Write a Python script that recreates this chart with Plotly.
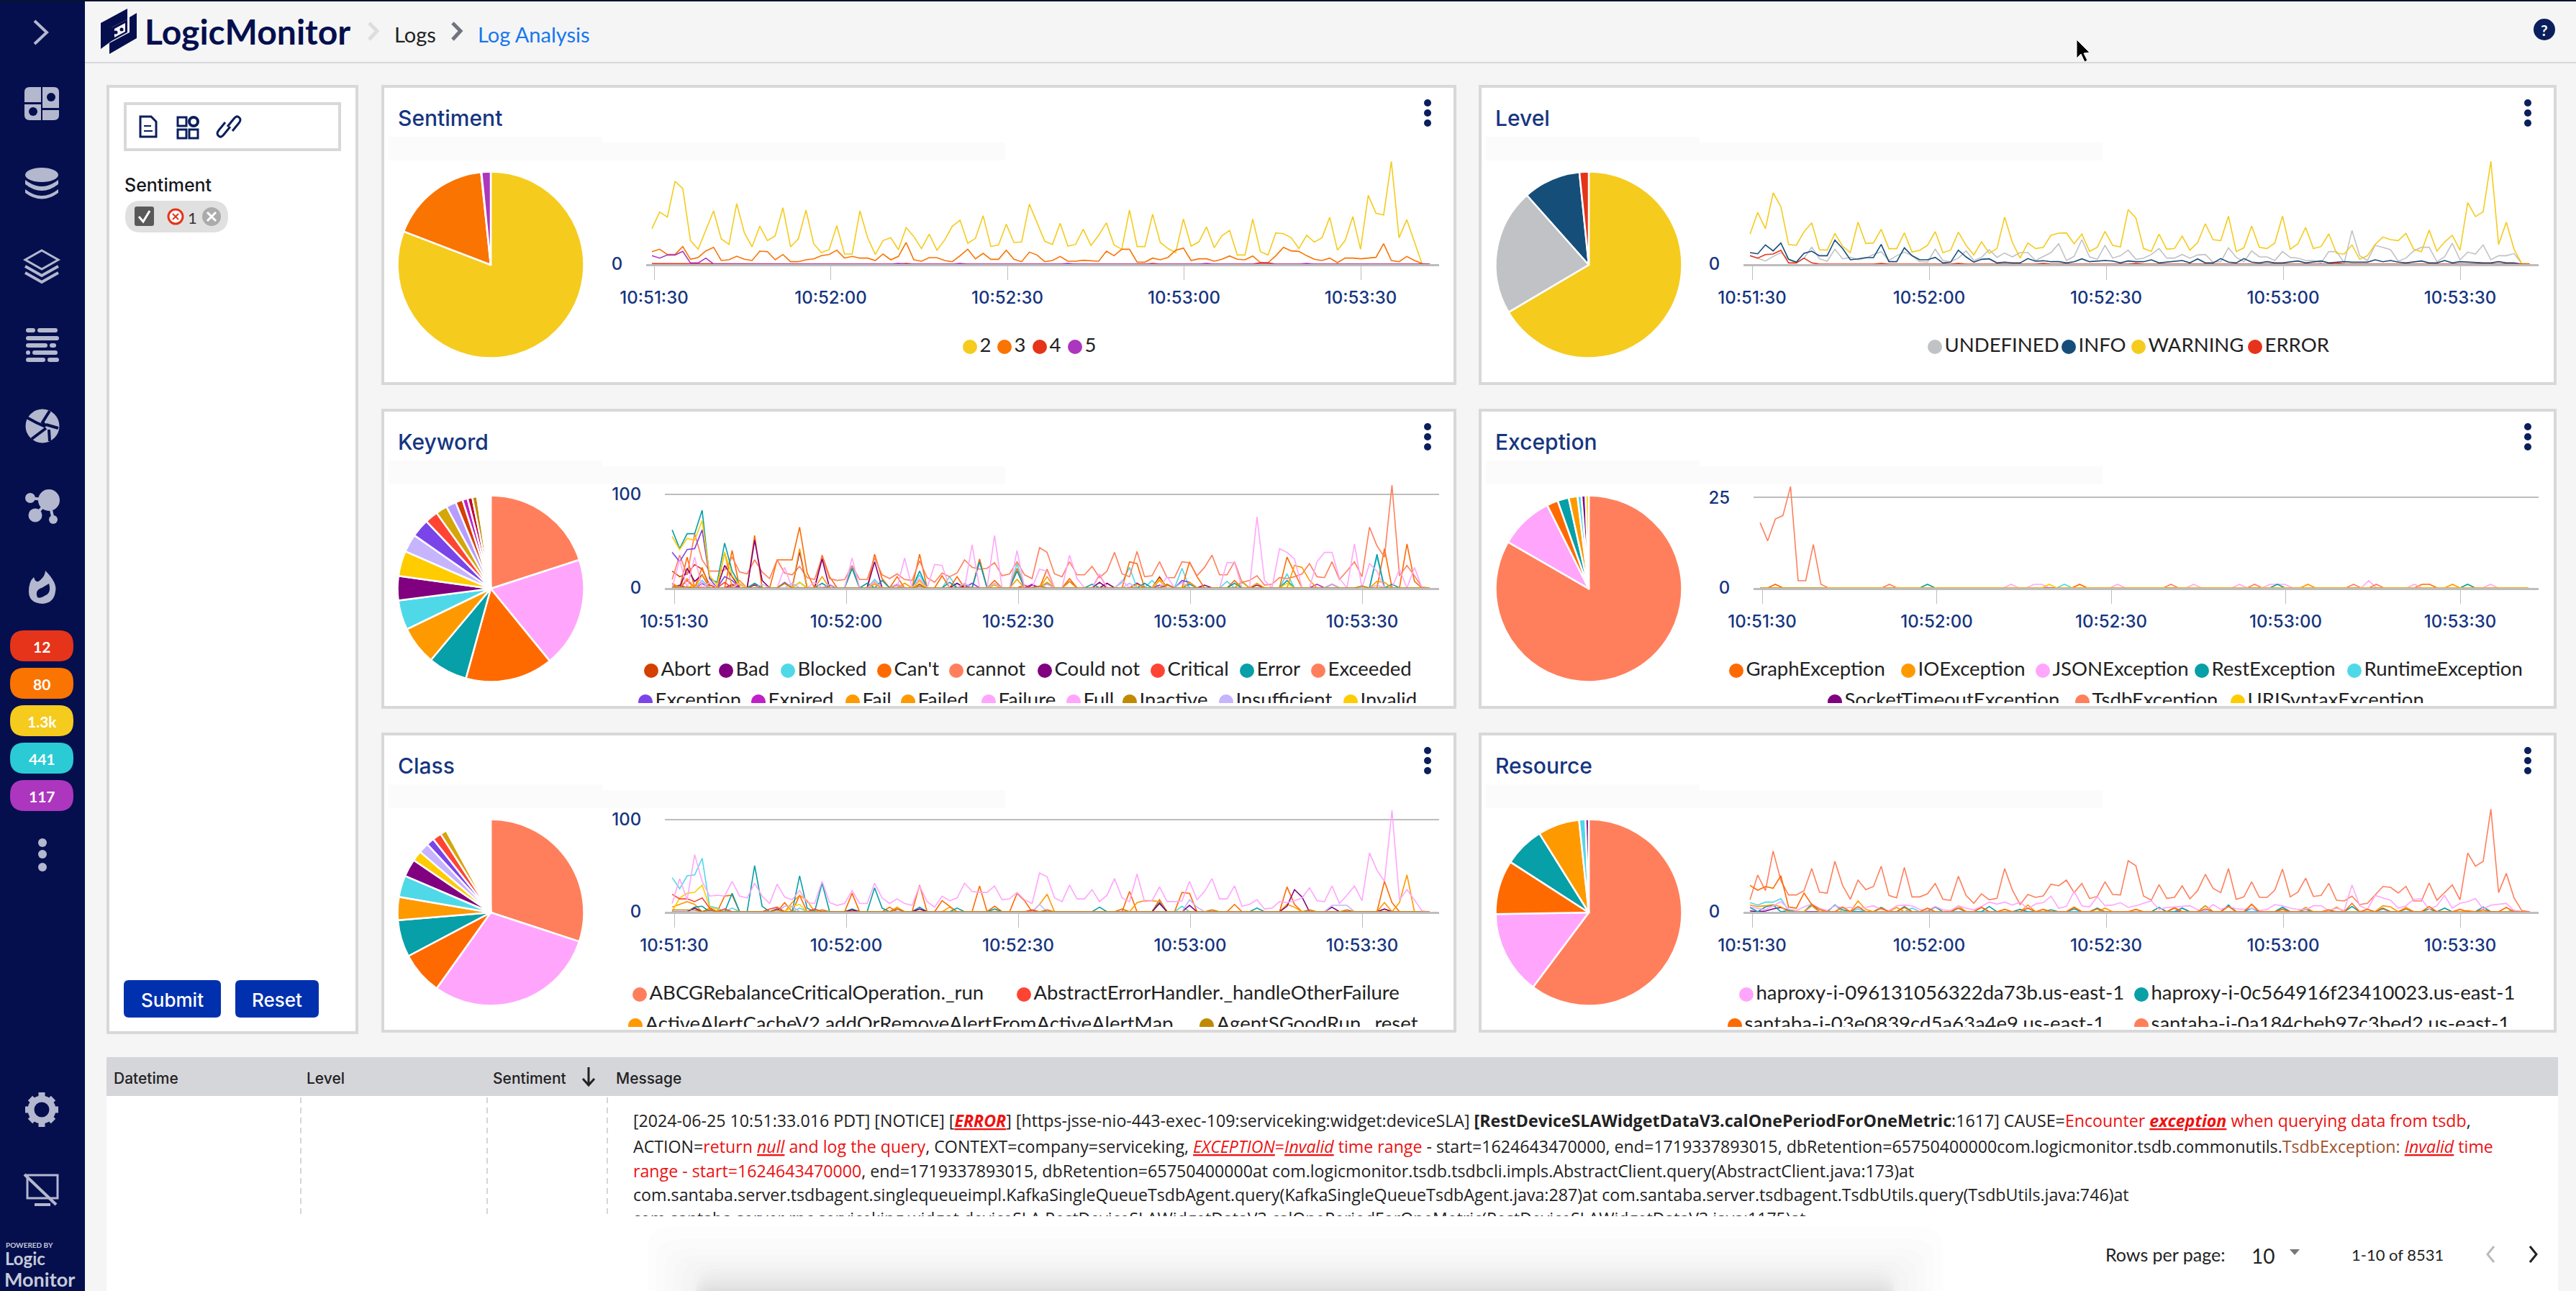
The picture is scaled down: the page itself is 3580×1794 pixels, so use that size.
import pandas as pd
import plotly.graph_objects as go

W, H = 3580, 1794
N = 102
FONT = "Lato"
UI_FONT = "Inter"
NAVY = "#050F4E"
ICON = "#B3B8CE"
TITLE = "#16357F"


def spikes(d):
    return [d.get(i, 0) for i in range(N)]


# Sentiment: only 0 is labelled on this axis, so values are relative heights
SENTIMENT_2 = [148, 217, 196, 345, 315, 98, 62, 145, 222, 105, 82, 252, 130, 72, 158, 98, 118, 235, 72, 105,
               225, 85, 48, 60, 160, 42, 42, 222, 110, 40, 98, 110, 60, 152, 115, 65, 125, 58, 100, 158,
               183, 87, 107, 202, 73, 80, 166, 90, 92, 250, 175, 95, 82, 170, 75, 82, 145, 78, 120, 172,
               80, 62, 225, 73, 73, 208, 90, 65, 48, 188, 75, 92, 155, 68, 118, 140, 38, 38, 188, 52,
               38, 130, 127, 110, 65, 120, 92, 110, 195, 58, 98, 198, 62, 287, 212, 205, 428, 110, 185, 90, 0, 0]
SENTIMENT_3 = [52, 62, 40, 40, 73, 20, 28, 55, 70, 15, 18, 33, 20, 15, 54, 52, 18, 40, 10, 10,
               18, 22, 35, 40, 58, 25, 32, 25, 25, 15, 42, 18, 32, 90, 18, 12, 27, 27, 15, 10,
               35, 62, 22, 45, 20, 20, 58, 20, 10, 50, 38, 10, 15, 32, 12, 12, 16, 15, 12, 54,
               35, 62, 62, 8, 8, 25, 18, 28, 58, 67, 15, 22, 22, 12, 20, 34, 20, 18, 34, 6,
               6, 35, 70, 55, 53, 35, 20, 15, 25, 6, 25, 25, 22, 25, 28, 85, 15, 10, 32, 15, 2, 0]
SENTIMENT_4 = spikes({0: 2, 1: 2, 2: 2, 3: 2, 4: 2, 33: 3, 65: 3, 79: 6, 80: 5})
SENTIMENT_5 = spikes({0: 35, 1: 25, 2: 38, 3: 38, 4: 53, 5: 5, 6: 5, 7: 25, 32: 3, 40: 3, 54: 3, 72: 3, 85: 3})

LEVEL_UNDEFINED = [35, 25, 13, 32, 48, 20, 5, 25, 70, 22, 12, 62, 22, 28, 18, 25, 40, 52, 15, 35,
                   50, 35, 10, 8, 62, 15, 10, 25, 55, 15, 28, 60, 28, 46, 30, 48, 48, 15, 32, 48,
                   85, 15, 32, 102, 30, 20, 78, 25, 35, 58, 20, 25, 40, 65, 25, 25, 40, 25, 38, 40,
                   8, 10, 68, 28, 10, 55, 30, 30, 15, 52, 28, 25, 15, 15, 5, 52, 52, 5, 140, 35,
                   15, 78, 70, 60, 12, 25, 55, 70, 70, 10, 30, 87, 18, 50, 42, 80, 18, 35, 35, 44, 2, 0]
LEVEL_INFO = [48, 43, 80, 55, 88, 20, 8, 45, 54, 35, 35, 100, 65, 18, 22, 27, 27, 82, 10, 10,
              68, 35, 18, 18, 28, 5, 8, 58, 30, 8, 20, 22, 5, 8, 5, 5, 23, 12, 14, 10,
              10, 5, 10, 22, 10, 13, 15, 13, 5, 13, 10, 10, 18, 5, 8, 10, 15, 5, 22, 5,
              5, 23, 8, 5, 23, 8, 5, 10, 5, 5, 8, 13, 5, 8, 13, 5, 8, 10, 8, 8,
              8, 18, 10, 15, 8, 5, 8, 13, 5, 5, 15, 5, 10, 8, 5, 5, 5, 10, 5, 5, 0, 0]
LEVEL_WARNING = [125, 215, 148, 297, 240, 82, 78, 135, 172, 60, 58, 128, 75, 48, 175, 86, 88, 145, 64, 64,
                 130, 50, 58, 78, 135, 48, 58, 133, 78, 38, 93, 45, 65, 196, 90, 25, 88, 65, 70, 120,
                 129, 130, 85, 125, 53, 70, 136, 78, 72, 227, 192, 65, 53, 125, 62, 65, 117, 58, 90, 168,
                 102, 98, 200, 52, 68, 158, 70, 65, 88, 200, 62, 85, 153, 65, 73, 126, 45, 42, 80, 20,
                 35, 82, 113, 102, 98, 128, 62, 52, 142, 54, 92, 120, 58, 256, 198, 218, 428, 82, 175, 62, 2, 2]
LEVEL_ERROR = spikes({0: 35, 1: 25, 2: 40, 3: 42, 4: 58, 5: 5, 6: 5, 7: 25, 8: 5, 17: 3, 27: 3, 38: 3, 50: 3, 76: 4})

# Keyword (counts)
KW_EXCEEDED = [9, 35, 14, 58, 30, 18, 18, 19, 33, 17, 15, 30, 17, 10, 30, 16, 14, 23, 11, 9,
               33, 10, 8, 9, 24, 9, 9, 32, 14, 10, 15, 9, 8, 29, 11, 6, 16, 12, 16, 30,
               22, 20, 21, 27, 13, 15, 28, 14, 10, 43, 38, 15, 12, 28, 14, 14, 23, 11, 18, 38,
               15, 12, 39, 12, 13, 28, 11, 11, 28, 27, 13, 22, 35, 14, 14, 28, 6, 8, 13, 3,
               4, 11, 10, 12, 15, 26, 12, 11, 28, 9, 18, 28, 12, 65, 45, 33, 110, 13, 24, 13, 1, 0]
KW_FULL = spikes({1: 30, 3: 33, 5: 6, 9: 5, 15: 22, 19: 6, 24: 32, 27: 7, 31: 32, 33: 10, 35: 25, 36: 24, 40: 46, 43: 56,
                  46: 40, 49: 20, 50: 18, 53: 35, 54: 10, 57: 15, 60: 8, 66: 12, 74: 27, 75: 27, 78: 76, 79: 8,
                  81: 42, 82: 38, 83: 31, 86: 28, 87: 38, 88: 38, 89: 10, 91: 47, 93: 26, 94: 18, 97: 20, 99: 22})
KW_CANT = spikes({0: 3, 2: 33, 4: 22, 8: 40, 11: 56, 14: 30, 15: 30, 16: 30, 17: 65, 18: 16, 20: 35, 21: 12, 24: 21, 27: 36,
                  28: 10, 30: 12, 33: 36, 36: 13, 38: 12, 41: 31, 43: 8, 46: 21, 50: 20, 53: 10, 57: 14, 61: 28,
                  62: 26, 65: 12, 69: 28, 70: 12, 75: 8, 82: 33, 83: 16, 95: 42, 98: 47, 99: 7})
KW_ERROR = spikes({0: 62, 1: 42, 2: 58, 3: 58, 4: 83, 5: 10, 6: 6, 7: 48, 8: 18, 9: 4, 11: 5, 17: 6, 20: 5, 24: 21, 26: 5,
                   28: 8, 33: 18, 37: 6, 41: 28, 46: 18, 50: 5, 56: 4, 63: 5, 69: 4, 75: 5, 82: 8, 94: 36, 96: 4})
KW_FAILED = spikes({0: 5, 2: 10, 4: 14, 7: 38, 9: 8, 17: 42, 20: 12, 27: 6, 31: 5, 33: 8, 46: 9, 50: 12, 53: 7,
                    65: 8, 69: 6, 76: 7, 83: 24, 84: 22, 85: 8, 94: 7, 95: 6})
KW_BLOCKED = spikes({0: 4, 4: 8, 9: 5, 24: 24, 27: 9, 33: 14, 37: 12, 41: 28, 46: 26, 50: 6, 60: 6, 61: 22, 64: 8, 68: 21,
                     74: 7, 76: 6, 82: 15, 94: 33})
KW_COULD_NOT = spikes({2: 21, 3: 7, 4: 14, 7: 24, 8: 12, 11: 51, 12: 8, 17: 39, 20: 31, 27: 28, 33: 4, 38: 5, 50: 5, 53: 7,
                       57: 6, 65: 11, 78: 3, 88: 4})
KW_INVALID = spikes({0: 55, 1: 41, 2: 53, 3: 51, 4: 72, 5: 13, 6: 3, 7: 38, 8: 13, 9: 3, 17: 6, 33: 5, 65: 10, 82: 5})
KW_EXCEPTION = spikes({0: 38, 1: 28, 2: 41, 3: 42, 4: 62, 5: 10, 7: 12, 8: 8, 15: 6, 40: 5, 68: 8, 69: 6})
KW_ABORT = spikes({0: 18, 1: 12, 2: 15, 3: 25, 4: 20, 5: 3, 8: 4, 15: 5, 39: 3})
KW_BAD = spikes({1: 3, 4: 5, 11: 3, 30: 4, 48: 3, 58: 5, 62: 5, 71: 3})
KW_CRITICAL = spikes({0: 5, 2: 8, 7: 6, 11: 4, 30: 3, 47: 3, 66: 4})
KW_EXPIRED = spikes({4: 5, 8: 3, 21: 3, 48: 4, 65: 3, 86: 4})
KW_FAIL = spikes({3: 3, 15: 5, 27: 4, 43: 3, 50: 6, 62: 4, 78: 5})
KW_FAILURE = spikes({4: 6, 21: 4, 30: 4, 50: 4, 61: 5, 88: 4})
KW_INACTIVE = spikes({0: 1, 1: 1, 2: 1, 15: 5, 33: 2, 49: 2, 66: 3, 92: 2})
KW_INSUFFICIENT = spikes({12: 4, 16: 5, 39: 5, 43: 5, 68: 6, 94: 3})

EX_GRAPH = spikes({2: 1, 42: 1, 87: 1, 88: 1})
EX_IO = spikes({72: 1, 91: 1})
EX_JSON = spikes({33: 1, 36: 1, 37: 1, 47: 1, 57: 1, 63: 1, 67: 1, 68: 1, 69: 1, 80: 2, 86: 1, 96: 1})
EX_REST = spikes({22: 1, 68: 1, 93: 1})
EX_RUNTIME = spikes({40: 1})
EX_SOCKET = spikes({})
EX_TSDB = spikes({0: 18, 1: 13, 2: 19, 3: 20, 4: 28, 5: 2, 6: 2, 7: 12, 8: 1, 17: 1, 54: 1, 65: 1, 78: 1, 81: 1})
EX_URI = spikes({38: 1})

CLASS_ABCG = [9, 36, 13, 62, 33, 17, 18, 17, 33, 17, 15, 31, 17, 9, 30, 16, 13, 23, 10, 9,
              33, 10, 7, 9, 23, 9, 9, 31, 15, 9, 14, 9, 7, 28, 11, 5, 17, 12, 15, 31,
              22, 21, 21, 28, 13, 14, 21, 13, 9, 42, 38, 15, 11, 29, 14, 14, 24, 11, 18, 36,
              15, 11, 41, 11, 12, 27, 11, 11, 12, 33, 13, 22, 36, 14, 14, 28, 6, 8, 13, 3,
              4, 11, 10, 12, 15, 26, 12, 11, 28, 9, 18, 28, 12, 64, 45, 33, 110, 13, 24, 13, 1, 0]
CLASS_HANDLER = spikes({0: 19, 1: 14, 2: 14, 3: 11, 4: 15, 5: 4, 7: 3, 13: 3, 14: 5, 19: 3, 30: 3, 48: 2})
CLASS_ALERT = spikes({0: 5, 1: 8, 2: 11, 3: 8, 5: 4, 16: 10, 17: 18, 18: 12, 30: 5, 37: 5, 49: 8, 50: 19, 62: 10,
                      63: 12, 64: 12, 65: 11, 98: 40, 97: 10, 95: 10, 82: 8, 83: 5})
CLASS_ERROR = spikes({3: 5, 4: 6, 8: 20, 11: 50, 12: 6, 17: 39, 18: 4, 20: 31, 24: 3, 27: 26, 28: 4, 33: 5, 38: 4, 43: 3,
                      57: 5, 65: 10, 78: 4})
CLASS_CYAN = spikes({0: 37, 1: 25, 2: 39, 3: 40, 4: 58, 5: 6, 6: 4, 8: 4, 17: 4, 68: 6})
CLASS_YELLOW = spikes({1: 15, 2: 20, 3: 21, 4: 29, 5: 5, 6: 3, 16: 6, 17: 8})
CLASS_ORANGE = spikes({3: 4, 7: 17, 8: 18, 15: 10, 17: 18, 24: 20, 29: 5, 33: 29, 36: 12, 37: 6, 41: 28, 43: 6, 46: 20,
                       47: 12, 61: 22, 65: 13, 68: 21, 69: 20, 75: 8, 82: 27, 83: 8, 95: 33, 96: 10})
CLASS_PURPLE = spikes({3: 4, 5: 2, 14: 3, 24: 2, 33: 3, 65: 9, 69: 7, 82: 6, 83: 24, 84: 16, 88: 5, 95: 3})
CLASS_LAVENDER = spikes({15: 6, 16: 6, 49: 8, 69: 13, 70: 5, 88: 7, 89: 7, 90: 7})
CLASS_GOLD = spikes({0: 2, 1: 2, 2: 2, 3: 2, 5: 2, 14: 2, 20: 2, 30: 3, 50: 2, 60: 3, 72: 2, 85: 2, 90: 2})

RES_HAPROXY_A = [20, 15, 8, 25, 42, 12, 5, 20, 32, 15, 5, 25, 15, 18, 15, 18, 25, 10, 5, 25,
                 28, 25, 10, 5, 22, 8, 5, 25, 15, 8, 22, 40, 32, 40, 28, 40, 12, 32, 38, 65,
                 15, 22, 85, 25, 20, 62, 25, 28, 38, 18, 25, 35, 45, 10, 18, 20, 22, 25, 8, 5,
                 30, 10, 22, 12, 10, 15, 5, 10, 30, 25, 15, 10, 8, 25, 25, 5, 15, 5, 112, 25,
                 10, 68, 58, 48, 15, 25, 52, 54, 10, 25, 68, 15, 35, 42, 55, 12, 28, 32, 35, 5, 0, 0]
RES_HAPROXY_B = spikes({0: 18, 2: 20, 3: 28, 5: 5, 8: 32, 11: 28, 12: 8, 17: 18, 20: 22, 24: 20, 27: 15, 31: 22,
                        35: 10, 39: 8, 42: 12, 45: 15, 53: 18, 56: 15, 59: 25, 62: 28, 65: 15, 69: 18, 72: 10, 78: 22,
                        82: 15, 85: 12, 88: 12, 90: 15, 95: 20, 99: 5})
RES_SANTABA_A = spikes({0: 110, 1: 90, 2: 105, 3: 98, 4: 150, 5: 20, 6: 15, 7: 78, 8: 30, 9: 10, 12: 20, 14: 22, 17: 15, 20: 18,
                        23: 15, 27: 15, 30: 18, 33: 10, 36: 15, 38: 10, 42: 18, 45: 12, 50: 10, 55: 15, 59: 12,
                        62: 22, 65: 32, 69: 10, 75: 8, 78: 35, 80: 10, 82: 12, 85: 12, 88: 22, 92: 10, 95: 8, 98: 18})
RES_SANTABA_B = [50, 153, 88, 253, 130, 70, 70, 88, 180, 82, 78, 210, 110, 52, 132, 92, 105, 190, 68, 58,
                 185, 62, 62, 75, 118, 52, 48, 148, 68, 35, 75, 50, 56, 180, 90, 30, 72, 60, 66, 115,
                 108, 132, 80, 118, 55, 64, 125, 72, 70, 213, 192, 65, 48, 113, 56, 60, 108, 54, 88, 156,
                 98, 80, 180, 52, 62, 125, 60, 60, 90, 178, 62, 82, 140, 64, 68, 118, 48, 45, 65, 30,
                 35, 70, 105, 102, 78, 106, 45, 45, 120, 48, 80, 112, 50, 245, 190, 210, 428, 80, 160, 58, 5, 0]
RES_AMBER = spikes({0: 28, 1: 22, 2: 25, 3: 30, 4: 20, 8: 25, 14: 45, 15: 10, 19: 18, 27: 25, 30: 20, 36: 28, 42: 20,
                    46: 15, 55: 18, 59: 25, 65: 30, 72: 18, 76: 20, 82: 25, 83: 20, 85: 18, 93: 5})
RES_CYAN = spikes({0: 38, 1: 28, 2: 40, 3: 40, 4: 55, 5: 5, 8: 25, 11: 28, 14: 12, 21: 15, 56: 15, 62: 25, 69: 20})
RES_PURPLE = spikes({0: 4, 2: 3, 3: 12, 4: 18, 5: 5})

TICK_LABELS = ["10:51:30", "10:52:00", "10:52:30", "10:53:00", "10:53:30"]
TICK_TIMES = ["2024-06-25 " + t for t in TICK_LABELS]

SENTIMENT_NAMES = ["2", "3", "4", "5"]
SENTIMENT_COLORS = ["#F5CB1E", "#F97400", "#E5341A", "#AD36BE"]
SENTIMENT_SLICES = [6896, 1493, 7, 135]
LEVEL_NAMES = ["UNDEFINED", "INFO", "WARNING", "ERROR"]
LEVEL_COLORS = ["#C1C2C6", "#164E7A", "#F5CB1E", "#E5341A"]
LEVEL_PIE_COLORS = ["#F5CB1E", "#C1C2C6", "#164E7A", "#E5341A"]
LEVEL_SLICES = [5673, 1871, 850, 137]
KEYWORD_NAMES = ["Abort", "Bad", "Blocked", "Can't", "cannot", "Could not", "Critical", "Error", "Exceeded",
                 "Exception", "Expired", "Fail", "Failed", "Failure", "Full", "Inactive", "Insufficient", "Invalid"]
KEYWORD_COLORS = ["#D44000", "#800080", "#4FD9E8", "#FF6A00", "#FF7F5C", "#800080", "#FF4433", "#079FA8", "#FF7F5C",
                  "#7A45E8", "#C020C8", "#FF9900", "#FF9900", "#FFA6FC", "#FFA6FC", "#C08A00", "#C6B4FF", "#FFCC00"]
KEYWORD_SLICES = [1446, 1382, 1098, 492, 486, 372, 304, 316, 228, 228, 164, 144, 126, 90, 64, 60, 60,
                  10, 10, 10, 10, 10, 10, 10, 10, 10, 10, 10, 10, 10, 10, 10, 10, 10]
KEYWORD_PIE_COLORS = ["#FF7F5C", "#FFA6FC", "#FF6A00", "#079FA8", "#FF9900", "#4FD9E8", "#800080", "#FFCC00",
                      "#C6B4FF", "#7A45E8", "#FF4433", "#D4A60A", "#B79CFF", "#D44000", "#C020C8", "#C2002F", "#C08A00"]
EXCEPTION_NAMES = ["GraphException", "IOException", "JSONException", "RestException", "RuntimeException",
                   "SocketTimeoutException", "TsdbException", "URISyntaxException"]
EXCEPTION_COLORS = ["#FF6A00", "#FF9900", "#FFA6FC", "#079FA8", "#4FD9E8", "#800080", "#FF7F5C", "#FFCC00"]
EXCEPTION_SLICES = [600, 67, 14, 14, 11, 5, 5, 4]
EXCEPTION_PIE_COLORS = ["#FF7F5C", "#FFA6FC", "#FF6A00", "#079FA8", "#FF9900", "#4FD9E8", "#800080", "#FFCC00"]
CLASS_NAMES = ["ABCGRebalanceCriticalOperation._run", "AbstractErrorHandler._handleOtherFailure",
               "ActiveAlertCacheV2.addOrRemoveAlertFromActiveAlertMap", "AgentSGoodRun._reset"]
CLASS_LEGEND_COLORS = ["#FF7F5C", "#FF4433", "#FF9900", "#C08A00"]
CLASS_SLICES = [107, 106.2, 26.4, 22.8, 14.3, 13.3, 11, 6.4, 6.3, 4.8, 5.5, 4] + [0.7] * 12 + [0.45] * 44
CLASS_PIE_COLORS = ["#FF7F5C", "#FFA6FC", "#FF6A00", "#079FA8", "#FF9900", "#4FD9E8", "#800080", "#FFCC00",
                    "#C6B4FF", "#7A45E8", "#FF4433", "#D4A60A", "#B79CFF", "#D44000", "#C020C8", "#C2002F", "#C08A00",
                    "#FF7F5C", "#FFA6FC", "#FF6A00", "#079FA8", "#FF9900", "#4FD9E8", "#800080"]
RESOURCE_NAMES = ["haproxy-i-096131056322da73b.us-east-1", "haproxy-i-0c564916f23410023.us-east-1",
                  "santaba-i-03e0839cd5a63a4e9.us-east-1", "santaba-i-0a184cbeb97c3bed2.us-east-1"]
RESOURCE_LEGEND_COLORS = ["#FFA6FC", "#079FA8", "#FF6A00", "#FF7F5C"]
RESOURCE_SLICES = [216.8, 52.2, 33.8, 25.2, 26, 4, 2]
RESOURCE_PIE_COLORS = ["#FF7F5C", "#FFA6FC", "#FF6A00", "#079FA8", "#FF9900", "#4FD9E8", "#800080"]

# rows of legend swatch positions are pixel layout, not data
SENT_LEG = [(1348, 482), (1396, 482), (1445, 482), (1494, 482)]
LEVEL_LEG = [(2689, 482), (2875, 482), (2972, 482), (3134, 482)]
KEY_LEG = [(x, 932) for x in (905, 1009, 1095, 1229, 1329, 1452, 1609, 1733, 1832)] + \
          [(x, 975) for x in (897, 1054, 1185, 1262, 1374, 1492, 1570, 1704, 1877)]
EXC_LEG = [(x, 932) for x in (2413, 2652, 2839, 3060, 3272)] + [(x, 975) for x in (2550, 2894, 3110)]
CLS_LEG = [(889, 1382), (1423, 1382), (883, 1425), (1677, 1425)]
RES_LEG = [(2427, 1382), (2976, 1382), (2411, 1425), (2976, 1425)]

times = pd.date_range("2024-06-25 10:51:29.64", periods=N, freq="1308ms")
x_times = [t.strftime("%Y-%m-%d %H:%M:%S.%f")[:-3] for t in times]
tick_zero = pd.Timestamp("2024-06-25 10:51:30")

fig = go.Figure()
layout_axes = {}
shapes = []
annotations = []


def rect(x0, y0, x1, y1, fill, line=None, lw=0, opacity=1):
    shapes.append(dict(type="rect", xref="x", yref="y", x0=x0, y0=y0, x1=x1, y1=y1, fillcolor=fill, opacity=opacity,
                       line=dict(color=line or fill, width=lw), layer="below"))


def rrect(x0, y0, x1, y1, r, fill, opacity=1, line=None, lw=0):
    p = (f"M{x0+r},{y0} L{x1-r},{y0} Q{x1},{y0} {x1},{y0+r} L{x1},{y1-r} Q{x1},{y1} {x1-r},{y1} "
         f"L{x0+r},{y1} Q{x0},{y1} {x0},{y1-r} L{x0},{y0+r} Q{x0},{y0} {x0+r},{y0} Z")
    shapes.append(dict(type="path", xref="x", yref="y", path=p, fillcolor=fill, opacity=opacity,
                       line=dict(color=line or fill, width=lw), layer="below"))


def circle(cx, cy, rx, fill, ry=None, line=None, lw=0):
    ry = ry or rx
    shapes.append(dict(type="circle", xref="x", yref="y", x0=cx-rx, y0=cy-ry, x1=cx+rx, y1=cy+ry, fillcolor=fill,
                       line=dict(color=line or fill, width=lw), layer="below"))


def path(d, fill="rgba(0,0,0,0)", line=None, lw=0):
    shapes.append(dict(type="path", xref="x", yref="y", path=d, fillcolor=fill,
                       line=dict(color=line or "rgba(0,0,0,0)", width=lw), layer="below"))


def text(x, y, s, size=24, color="#222", anchor="left", bold=False, family=FONT, weight=400):
    annotations.append(dict(xref="x", yref="y", x=x, y=y, text=f"<b>{s}</b>" if bold else s, showarrow=False,
                            xanchor=anchor, yanchor="middle", align=anchor, borderpad=0,
                            font=dict(family=family, size=size, color=color, weight=weight)))


# page axes in pixels, so everything around the charts can be placed directly
fig.add_trace(go.Scatter(x=[0], y=[0], mode="none", hoverinfo="skip", showlegend=False))
layout_axes["xaxis"] = dict(domain=[0, 1], range=[0, W], visible=False, fixedrange=True, automargin=False)
layout_axes["yaxis"] = dict(domain=[0, 1], range=[H, 0], visible=False, fixedrange=True, automargin=False)

# page background and navigation
rect(0, 0, 118, H, NAVY)
rect(0, 0, W, 2, "#0A1330")
rect(118, 86, W, 88, "#D8D8DE")

path("M140,32 L177,12 L177,27 L155,38 L155,57 L140,68 Z", fill=NAVY)
path("M190,18 L190,53 L152,75 L152,60 L180,45 L180,24 Z", fill=NAVY)
path("M155,38 L177,27 L177,45 L155,57 Z", fill=NAVY)
path("M159,40 L174,32 L174,44 L159,52 Z", fill="#F5F5F5")
circle(161, 45, 2.5, NAVY)
circle(169, 41, 2.5, NAVY)
text(200, 43, "LogicMonitor", size=48, color=NAVY, bold=True)
path("M513,32 L524,43 L513,55", line="#DDDDDD", lw=5)
text(547, 47, "Logs", size=29, color="#222")
path("M629,32 L640,43 L629,55", line="#70747F", lw=5)
text(663, 47, "Log Analysis", size=29, color="#1677EE")
circle(3536, 41, 15, "#0A1F5C")
text(3536, 41, "?", size=21, color="white", anchor="center", bold=True)
path("M2886,55 L2886,81 L2892,75 L2897,86 L2901,84 L2896,74 L2904,73 Z", fill="black", line="white", lw=1)

# sidebar icons
path("M48,29 L65,45 L48,61", line=ICON, lw=4)
rrect(34, 121, 82, 167, 7, ICON)
rect(57, 121, 59, 167, NAVY)
rect(34, 142, 57, 145, NAVY)
rect(59, 150, 82, 153, NAVY)
circle(71, 135, 6, NAVY)
circle(46, 155, 6, NAVY)
circle(58, 243, 23, ICON, ry=10)
path("M35,250 Q58,268 81,250 L81,256 Q58,274 35,256 Z", fill=ICON)
path("M35,263 Q58,281 81,263 L81,268 Q58,285 35,268 Z", fill=ICON)
path("M58,348 L81,361 L58,374 L35,361 Z", line=ICON, lw=3)
path("M35,370 L58,383 L81,370", line=ICON, lw=4)
path("M35,379 L58,392 L81,379", line=ICON, lw=4)
LIST_ICON = [(456, 36, 49), (456, 52, 80), (467, 36, 82), (477, 36, 66), (477, 69, 78),
             (487, 36, 42), (487, 45, 80), (497, 36, 63), (497, 66, 82)]
for yy, a, b in LIST_ICON:
    rrect(a, yy, b, yy + 6, 3, ICON)
circle(59, 592, 23.5, ICON)
for d in ["M69,571 L59,587 L64,592", "M37,580 L50,587 L63,593", "M81,595 L64,590", "M44,610 L64,595",
          "M69,613 L68,597"]:
    path(d, line=NAVY, lw=4)
path("M42,692 L68,695 M49,716 L68,695 M74,722 L68,695", line=ICON, lw=4)
circle(68, 695, 15, ICON)
circle(42, 692, 7, ICON)
circle(49, 716, 9.5, ICON)
circle(74, 722, 6, ICON)
path("M63,793 Q80,810 77,822 Q75,838 59,839 Q40,838 40,822 Q40,808 47,802 Q50,812 56,806 Q63,800 63,793 Z", fill=ICON)
path("M52,830 Q48,820 58,817 L68,811 Q72,824 62,828 Q56,832 52,830 Z", fill=NAVY)

BADGES = ["12", "80", "1.3k", "441", "117"]
BADGE_COLORS = ["#E5341A", "#F97400", "#F5CB1E", "#2ACBD5", "#AD36BE"]
BADGE_TOPS = [876, 928, 980, 1032, 1084]
for b, c, t in zip(BADGES, BADGE_COLORS, BADGE_TOPS):
    rrect(14, t, 102, t + 43, 20, c)
    text(58, t + 22, b, size=21, color="white", anchor="center", bold=True)
for yy in (1171, 1187, 1205):
    circle(59, yy, 6, ICON)

circle(58, 1542, 15, "rgba(0,0,0,0)", line=ICON, lw=9)
for d in ["M58,1518 L58,1526", "M58,1558 L58,1566", "M35,1542 L42,1542", "M74,1542 L81,1542",
          "M42,1526 L47,1531", "M69,1553 L74,1558", "M42,1558 L47,1553", "M69,1531 L74,1526"]:
    path(d, line=ICON, lw=9)
path("M38,1633 L80,1633 L80,1665 L38,1665 Z", line=ICON, lw=3)
path("M48,1674 L70,1674", line=ICON, lw=4)
path("M34,1632 L78,1674", line=ICON, lw=4)
text(7, 1730, "POWERED BY", size=10, color="#C6CAD8", bold=True)
text(6, 1748, "Logic", size=24, color="#C6CAD8", bold=True)
text(5, 1777, "Monitor", size=27, color="#C6CAD8", bold=True)

# filter card
rect(150, 120, 496, 1435, "white", line="#D8D8D8", lw=4)
rect(174, 144, 472, 208, "white", line="#D8D8D8", lw=4)
path("M195,162 L210,162 L217,169 L217,190 L195,190 Z", line="#0A1F5C", lw=3)
rect(200, 174, 210, 176, "#0A1F5C")
rect(200, 181, 212, 183, "#0A1F5C")
for xx, yy in ((247, 163), (247, 180), (263, 180)):
    rect(xx, yy, xx + 12, yy + 12, "white", line="#0A1F5C", lw=3)
circle(269, 169, 6, "white", line="#0A1F5C", lw=4)
path("M316,176 L325,165 Q329,160 332,163 Q336,166 332,171 L323,182", line="#0A1F5C", lw=3)
path("M320,176 L311,187 Q307,192 304,189 Q300,186 304,181 L313,170", line="#0A1F5C", lw=3)
text(172, 257, "Sentiment", size=25, color="#16181E", family=UI_FONT, weight=500)
rrect(174, 279, 317, 323, 22, "#E0E0E0")
rrect(187, 287, 214, 314, 3, "#595959")
path("M193,301 L199,308 L208,293", line="white", lw=3)
circle(244, 301, 10, "white", line="#E5341A", lw=3)
path("M240,297 L248,305 M248,297 L240,305", line="#E5341A", lw=2)
text(260, 302, "1", size=22, color="#333")
circle(294, 301, 13, "#ABABAB")
path("M288,295 L300,307 M300,295 L288,307", line="white", lw=3)
rrect(172, 1362, 307, 1414, 7, "#0030AE")
text(239, 1389, "Submit", size=26, color="white", anchor="center", family=UI_FONT, weight=500)
rrect(327, 1362, 443, 1414, 7, "#0030AE")
text(385, 1389, "Reset", size=26, color="white", anchor="center", family=UI_FONT, weight=500)

# table under the charts
rect(148, 1469, 3555, H, "white")
rect(148, 1469, 3555, 1523, "#D5D6DA")
for xx, lab in ((157, "Datetime"), (425, "Level"), (684, "Sentiment"), (855, "Message")):
    text(xx, 1498, lab, size=21, color="#222", family=UI_FONT, weight=500)
path("M818,1483 L818,1507 M810,1499 L818,1508 L826,1499", line="#222", lw=3)
for xx in (418, 677, 844):
    shapes.append(dict(type="line", xref="x", yref="y", x0=xx, x1=xx, y0=1525, y1=1690, layer="below",
                       line=dict(color="#D6D6D6", width=2, dash="8px,6px")))

RED = 'style="color:#EE1111"'
MSG_LINES = [
    f'[2024-06-25 10:51:33.016 PDT] [NOTICE] [<span {RED}><b><i><u>ERROR</u></i></b></span>] '
    '[https-jsse-nio-443-exec-109:serviceking:widget:deviceSLA] '
    '<b>[RestDeviceSLAWidgetDataV3.calOnePeriodForOneMetric</b>:1617] CAUSE='
    f'<span {RED}>Encounter <b><i><u>exception</u></i></b> when querying data from tsdb</span>,',
    f'ACTION=<span {RED}>return <i><u>null</u></i> and log the query</span>, CONTEXT=company=serviceking, '
    f'<span {RED}><i><u>EXCEPTION</u></i>=<i><u>Invalid</u></i> time range</span> - start=1624643470000, '
    'end=1719337893015, dbRetention=65750400000com.logicmonitor.tsdb.commonutils.'
    f'<span style="color:#A0522D">TsdbException:</span> <span {RED}><i><u>Invalid</u></i> time</span>',
    f'<span {RED}>range - start=1624643470000</span>, end=1719337893015, dbRetention=65750400000at '
    'com.logicmonitor.tsdb.tsdbcli.impls.AbstractClient.query(AbstractClient.java:173)at',
    'com.santaba.server.tsdbagent.singlequeueimpl.KafkaSingleQueueTsdbAgent.query(KafkaSingleQueueTsdbAgent.java:287)at '
    'com.santaba.server.tsdbagent.TsdbUtils.query(TsdbUtils.java:746)at',
]
for yy, line in zip((1557, 1593, 1627, 1660), MSG_LINES):
    text(879, yy, line, size=23.2, color="#222", family="Open Sans")

# blurred strip at the bottom of the page
SHADOW_TOPS = [1705, 1722, 1735, 1745, 1752, 1758, 1763, 1767, 1771, 1775, 1778, 1781, 1784, 1787, 1789, 1791]
for k, top in enumerate(SHADOW_TOPS):
    inset = min(k * 12, 66)
    rrect(900 + inset, top, 2700 - inset, H + 40, 30, "#000000", opacity=0.009)

text(2925, 1743, "Rows per page:", size=25, color="#222")
text(3128, 1745, "10", size=28, color="#222")
path("M3182,1736 L3196,1736 L3189,1744 Z", fill="#777777")
text(3267, 1743, "1-10 of 8531", size=22, color="#222")
path("M3466,1732 L3457,1743 L3466,1754", line="#BBBBBB", lw=3)
path("M3516,1732 L3525,1743 L3516,1754", line="#222222", lw=3)


def add_panel(idx, title, left_col, row, series, colors, slices, pie_colors, legend_pos, legend_names,
              legend_colors, yvals, ymax, yticks, tick0, step, plot_l, plot_r):
    cx0, cx1 = (532, 2022) if left_col else (2057, 3551)
    dy = row * 450
    base = 367 + dy
    top = 214 + dy
    rect(cx0, 120 + dy, cx1, 533 + dy, "white", line="#D8D8D8", lw=4)
    rect(cx0 + 8, 190 + dy, cx0 + 305, 223 + dy, "#FBFBFC")
    rect(cx0 + 305, 198 + dy, cx0 + 865, 223 + dy, "#FBFBFC")
    text(cx0 + 20, 164 + dy, title, size=30, color=TITLE, family=UI_FONT, weight=500)
    kx = cx1 - 38
    for yy in (143, 157, 171):
        circle(kx, yy + dy, 5, "#0A1F5C", ry=5)

    # pie
    px = 682 if left_col else 2208
    cy = 368 + dy
    fig.add_trace(go.Pie(values=slices, labels=[str(i) for i in range(len(slices))],
                         marker=dict(colors=pie_colors, line=dict(color="white", width=2.5)),
                         sort=False, direction="clockwise", rotation=0, textinfo="none", hoverinfo="skip",
                         showlegend=False, domain=dict(x=[(px - 129.5) / W, (px + 129.5) / W],
                                                       y=[1 - (cy + 129.5) / H, 1 - (cy - 129.5) / H])))

    # time series
    n = idx * 2 + 2
    for s, c in zip(series, colors):
        fig.add_trace(go.Scatter(x=x_times[:len(s)], y=s, mode="lines", hoverinfo="skip", showlegend=False,
                                 line=dict(color=c, width=1.6), xaxis=f"x{n}", yaxis=f"y{n}", cliponaxis=False))
    rng = [tick_zero + pd.Timedelta(seconds=(v - tick0) / step * 30) for v in (plot_l, plot_r)]
    tick_font = dict(family=UI_FONT, size=24, color=TITLE, weight=500)
    layout_axes[f"xaxis{n}"] = dict(domain=[plot_l / W, plot_r / W], anchor=f"y{n}", type="date", automargin=False,
                                    range=[r.strftime("%Y-%m-%d %H:%M:%S.%f")[:-3] for r in rng],
                                    tickmode="array", tickvals=TICK_TIMES, ticktext=TICK_LABELS,
                                    ticks="outside", ticklen=19, tickwidth=1, tickcolor="#BDBDBD",
                                    ticklabelstandoff=4, showgrid=False, zeroline=False,
                                    showline=True, linecolor="#BDBDBD", linewidth=3, fixedrange=True,
                                    tickfont=tick_font)
    layout_axes[f"yaxis{n}"] = dict(domain=[1 - base / H, 1 - top / H], anchor=f"x{n}", range=[0, ymax], automargin=False,
                                    tickmode="array", tickvals=yvals, ticktext=yticks, ticks="outside", ticklen=27,
                                    tickcolor="rgba(0,0,0,0)", showgrid=True, gridcolor="#BDBDBD", gridwidth=2,
                                    zeroline=False, showline=False, fixedrange=True, tickfont=tick_font)

    # legend on its own axes so that the second row is cut at the card edge
    m = n + 1
    y_a, y_b = 462 + dy, 527 + dy
    fig.add_trace(go.Scatter(x=[p[0] for p in legend_pos], y=[p[1] for p in legend_pos], mode="markers+text",
                             text=legend_names, textposition="middle right", hoverinfo="skip", showlegend=False,
                             marker=dict(size=20, color=legend_colors), cliponaxis=True,
                             textfont=dict(family=FONT, size=27.5, color="#222"), xaxis=f"x{m}", yaxis=f"y{m}"))
    layout_axes[f"xaxis{m}"] = dict(domain=[cx0 / W, cx1 / W], range=[cx0, cx1], visible=False, anchor=f"y{m}",
                                    fixedrange=True, automargin=False)
    layout_axes[f"yaxis{m}"] = dict(domain=[1 - y_b / H, 1 - y_a / H], range=[y_b, y_a], visible=False, anchor=f"x{m}",
                                    fixedrange=True, automargin=False)


add_panel(0, "Sentiment", True, 0, [SENTIMENT_2, SENTIMENT_3, SENTIMENT_4, SENTIMENT_5], SENTIMENT_COLORS,
          SENTIMENT_SLICES, SENTIMENT_COLORS, SENT_LEG, SENTIMENT_NAMES,
          SENTIMENT_COLORS, [0], 459, ["0"], 909, 245.5, 898, 2000)
add_panel(1, "Level", False, 0, [LEVEL_UNDEFINED, LEVEL_INFO, LEVEL_WARNING, LEVEL_ERROR], LEVEL_COLORS,
          LEVEL_SLICES, LEVEL_PIE_COLORS, LEVEL_LEG, LEVEL_NAMES, LEVEL_COLORS, [0], 459, ["0"], 2435, 246, 2423, 3528)
add_panel(2, "Keyword", True, 1,
          [KW_ABORT, KW_BAD, KW_BLOCKED, KW_CANT, KW_EXCEEDED, KW_COULD_NOT, KW_CRITICAL, KW_ERROR, KW_FAIL,
           KW_EXCEPTION, KW_EXPIRED, KW_FAILED, KW_FAILURE, KW_FULL, KW_INVALID, KW_INSUFFICIENT, KW_INACTIVE],
          ["#D44000", "#800080", "#4FD9E8", "#FF6A00", "#FF7F5C", "#800080", "#FF4433", "#079FA8", "#FF9900",
           "#7A45E8", "#C020C8", "#FF9900", "#C6B4FF", "#FFA6FC", "#FFCC00", "#C6B4FF", "#C08A00"],
          KEYWORD_SLICES, KEYWORD_PIE_COLORS, KEY_LEG, KEYWORD_NAMES, KEYWORD_COLORS,
          [0, 100], 117.7, ["0", "100"], 937, 239, 924, 2000)
add_panel(3, "Exception", False, 1, [EX_GRAPH, EX_IO, EX_JSON, EX_REST, EX_RUNTIME, EX_SOCKET, EX_TSDB, EX_URI],
          EXCEPTION_COLORS, EXCEPTION_SLICES, EXCEPTION_PIE_COLORS, EXC_LEG, EXCEPTION_NAMES,
          EXCEPTION_COLORS, [0, 25], 30.4, ["0", "25"], 2449, 242.5, 2437, 3528)
add_panel(4, "Class", True, 2,
          [CLASS_ORANGE, CLASS_ALERT, CLASS_ERROR, CLASS_CYAN, CLASS_YELLOW, CLASS_PURPLE, CLASS_LAVENDER, CLASS_HANDLER,
           CLASS_ABCG, CLASS_GOLD],
          ["#FF6A00", "#FF9900", "#079FA8", "#4FD9E8", "#FFCC00", "#800080", "#C6B4FF", "#FF4433", "#FFA6FC", "#C08A00"],
          CLASS_SLICES, CLASS_PIE_COLORS, CLS_LEG, CLASS_NAMES, CLASS_LEGEND_COLORS,
          [0, 100], 119.5, ["0", "100"], 937, 239, 924, 2000)
add_panel(5, "Resource", False, 2,
          [RES_PURPLE, RES_CYAN, RES_HAPROXY_B, RES_AMBER, RES_SANTABA_B, RES_HAPROXY_A, RES_SANTABA_A],
          ["#800080", "#4FD9E8", "#079FA8", "#FF9900", "#FF7F5C", "#FFA6FC", "#FF6A00"],
          RESOURCE_SLICES, RESOURCE_PIE_COLORS, RES_LEG, RESOURCE_NAMES, RESOURCE_LEGEND_COLORS,
          [0], 459, ["0"], 2435, 246, 2423, 3528)

# fifth message line, of which only the top shows above the table edge
CUT_LINE = ["com.santaba.server.rpc.serviceking.widget.deviceSLA.RestDeviceSLAWidgetDataV3."
            "calOnePeriodForOneMetric(RestDeviceSLAWidgetDataV3.java:1175)at"]
fig.add_trace(go.Scatter(x=[879], y=[1696], mode="text", text=CUT_LINE, textposition="middle right", hoverinfo="skip",
                         showlegend=False, cliponaxis=True, textfont=dict(family="Open Sans", size=23, color="#222"),
                         xaxis="x14", yaxis="y14"))
layout_axes["xaxis14"] = dict(domain=[870 / W, 3540 / W], range=[870, 3540], visible=False, anchor="y14", fixedrange=True,
                              automargin=False)
layout_axes["yaxis14"] = dict(domain=[1 - 1690 / H, 1 - 1670 / H], range=[1690, 1670], visible=False, anchor="x14",
                              fixedrange=True, automargin=False)

fig.update_layout(width=W, height=H, margin=dict(l=0, r=0, t=0, b=0, autoexpand=False), autosize=False,
                  paper_bgcolor="#F5F5F5", plot_bgcolor="rgba(0,0,0,0)", showlegend=False, hovermode=False,
                  shapes=shapes, annotations=annotations, font=dict(family=FONT), **layout_axes)

fig.write_html("out.html", config=dict(displayModeBar=False),
               post_script="document.body.style.margin='0';document.body.style.overflow='hidden';")
